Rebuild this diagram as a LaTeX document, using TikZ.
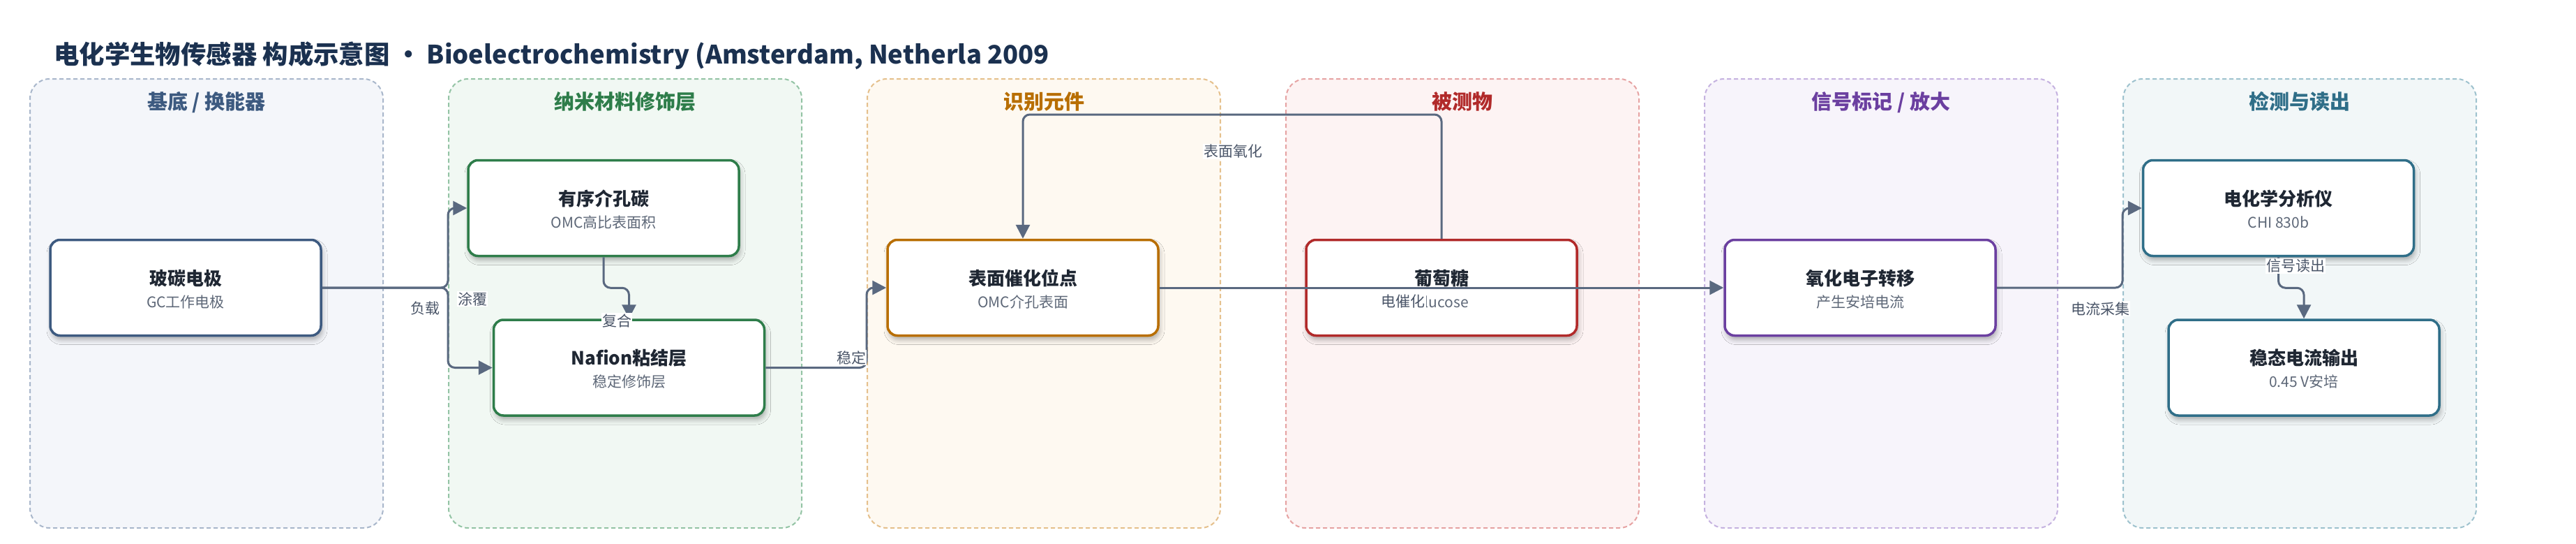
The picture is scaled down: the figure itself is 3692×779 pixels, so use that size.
\documentclass[tikz,border=0pt]{standalone}
\usepackage{fontspec}
\setmainfont{Noto Sans CJK SC}
\usetikzlibrary{arrows.meta,calc,shadows.blur}
\definecolor{edgec}{HTML}{5A6980}
\definecolor{lblc}{HTML}{4A5568}
\definecolor{titlec}{HTML}{1B3150}
\definecolor{ntc}{HTML}{1F2733}
\definecolor{nsc}{HTML}{5E6878}
\definecolor{cA}{HTML}{3D5A80}\definecolor{fA}{HTML}{F4F6FA}\definecolor{dA}{HTML}{A9B7CB}
\definecolor{cB}{HTML}{2E7D4A}\definecolor{fB}{HTML}{F1F8F3}\definecolor{dB}{HTML}{94C4A5}
\definecolor{cC}{HTML}{B86E00}\definecolor{fC}{HTML}{FEF9F1}\definecolor{dC}{HTML}{E5C08C}
\definecolor{cD}{HTML}{B12A2A}\definecolor{fD}{HTML}{FDF3F3}\definecolor{dD}{HTML}{E6A3A3}
\definecolor{cE}{HTML}{6B3FA0}\definecolor{fE}{HTML}{F7F4FB}\definecolor{dE}{HTML}{C5B2E0}
\definecolor{cF}{HTML}{2F6E88}\definecolor{fF}{HTML}{F2F7F8}\definecolor{dF}{HTML}{9EC2CE}
\newcommand\mkbox[6]{%
  \node[box, draw=#4] (#1) at (#2,#3) {};
  \node[ntitle] (#1-t) at ($(#1.center)+(0,-4)$) {#5};
  \node[nsub] (#1-s) at ($(#1.center)+(0,28)$) {#6};
}
\newcommand\mklane[6]{%
  \node[lane, draw=#4, fill=#5] (#1) at (#2,434.5) {};
  \node[lanetitle, text=#3] (#1-t) at (#2,156) {#6};
}
\begin{document}
\begin{tikzpicture}[x=1pt,y=-1pt,
  lane/.style={line width=2pt, dash pattern=on 6pt off 4pt, rounded corners=28pt,
    minimum width=506pt, minimum height=643pt, inner sep=0pt},
  lanetitle/.style={font=\fontsize{29}{34}\selectfont\bfseries, anchor=base, inner sep=0pt},
  box/.style={fill=white, line width=3.5pt, rounded corners=14pt,
    minimum width=388pt, minimum height=137pt, inner sep=0pt,
    blur shadow={shadow xshift=2pt, shadow yshift=-6pt, shadow blur radius=7pt, shadow opacity=30}},
  ntitle/.style={font=\fontsize{26}{30}\selectfont\bfseries, text=ntc, anchor=base, inner sep=0pt},
  nsub/.style={font=\fontsize{21}{25}\selectfont, text=nsc, anchor=base, inner sep=0pt},
  edge/.style={draw=edgec, line width=3pt, rounded corners=10pt, -{Triangle[length=20pt,width=20pt]}},
  elabel/.style={fill=white, text=lblc, font=\fontsize{21}{25}\selectfont, inner sep=1pt}
]
\useasboundingbox[fill=white] (0,0) rectangle (3692,779);
\node[anchor=base west, font=\fontsize{36.4}{42}\selectfont\bfseries, text=titlec, inner sep=0pt]
  (title) at (77,91) {电化学生物传感器 构成示意图 • Bioelectrochemistry (Amsterdam, Netherla 2009};

\mklane{L1}{296}{cA}{dA}{fA}{基底 / 换能器}
\mklane{L2}{896}{cB}{dB}{fB}{纳米材料修饰层}
\mklane{L3}{1496}{cC}{dC}{fC}{识别元件}
\mklane{L4}{2096}{cD}{dD}{fD}{被测物}
\mklane{L5}{2696}{cE}{dE}{fE}{信号标记 / 放大}
\mklane{L6}{3296}{cF}{dF}{fF}{检测与读出}

\mkbox{gc}{266}{412}{cA}{玻碳电极}{GC工作电极}
\mkbox{omc}{865}{298}{cB}{有序介孔碳}{OMC高比表面积}
\mkbox{naf}{901.5}{526.5}{cB}{Nafion粘结层}{稳定修饰层}
\mkbox{cat}{1466}{412}{cC}{表面催化位点}{OMC介孔表面}
\mkbox{glu}{2066}{412}{cD}{葡萄糖}{Glucose}
\mkbox{ox}{2666}{412}{cE}{氧化电子转移}{产生安培电流}
\mkbox{ana}{3265.5}{298}{cF}{电化学分析仪}{CHI 830b}
\mkbox{out}{3302}{526.5}{cF}{稳态电流输出}{0.45 V安培}

\coordinate (m1) at ($(omc.south)!0.5!(naf.north)$);
\coordinate (m2) at ($(ana.south)!0.5!(out.north)$);
\coordinate (ytop) at (0,164);

\draw[edge] (gc.east) -- (gc.east -| L2.west) |- (omc.west);
\draw[edge] (gc.east) -- (gc.east -| L2.west) |- (naf.west);
\draw[edge] (omc.south) -- (omc.south |- m1) -- (naf.north |- m1) -- (naf.north);
\draw[edge] (naf.east) -- (naf.east -| L3.west) |- (cat.west);
\draw[edge] (glu.north) -- (glu.north |- ytop) -- (cat.north |- ytop) -- (cat.north);
\draw[edge] (cat.east) -- (ox.west);
\draw[edge] (ox.east) -- (ox.east -| L6.west) |- (ana.west);
\draw[edge] (ana.south) -- (ana.south |- m2) -- (out.north |- m2) -- (out.north);

\node[elabel] (l1) at (609,442) {负载};
\node[elabel] (l2) at (677,428) {涂覆};
\node[elabel] (l3) at (884,459) {复合};
\node[elabel] (l4) at (1220,512) {稳定};
\node[elabel] (l5) at (1767,217) {表面氧化};
\node[elabel] (l6) at (2011,432) {电催化};
\node[elabel] (l7) at (3010,442) {电流采集};
\node[elabel] (l8) at (3290,381) {信号读出};
\end{tikzpicture}
\end{document}
